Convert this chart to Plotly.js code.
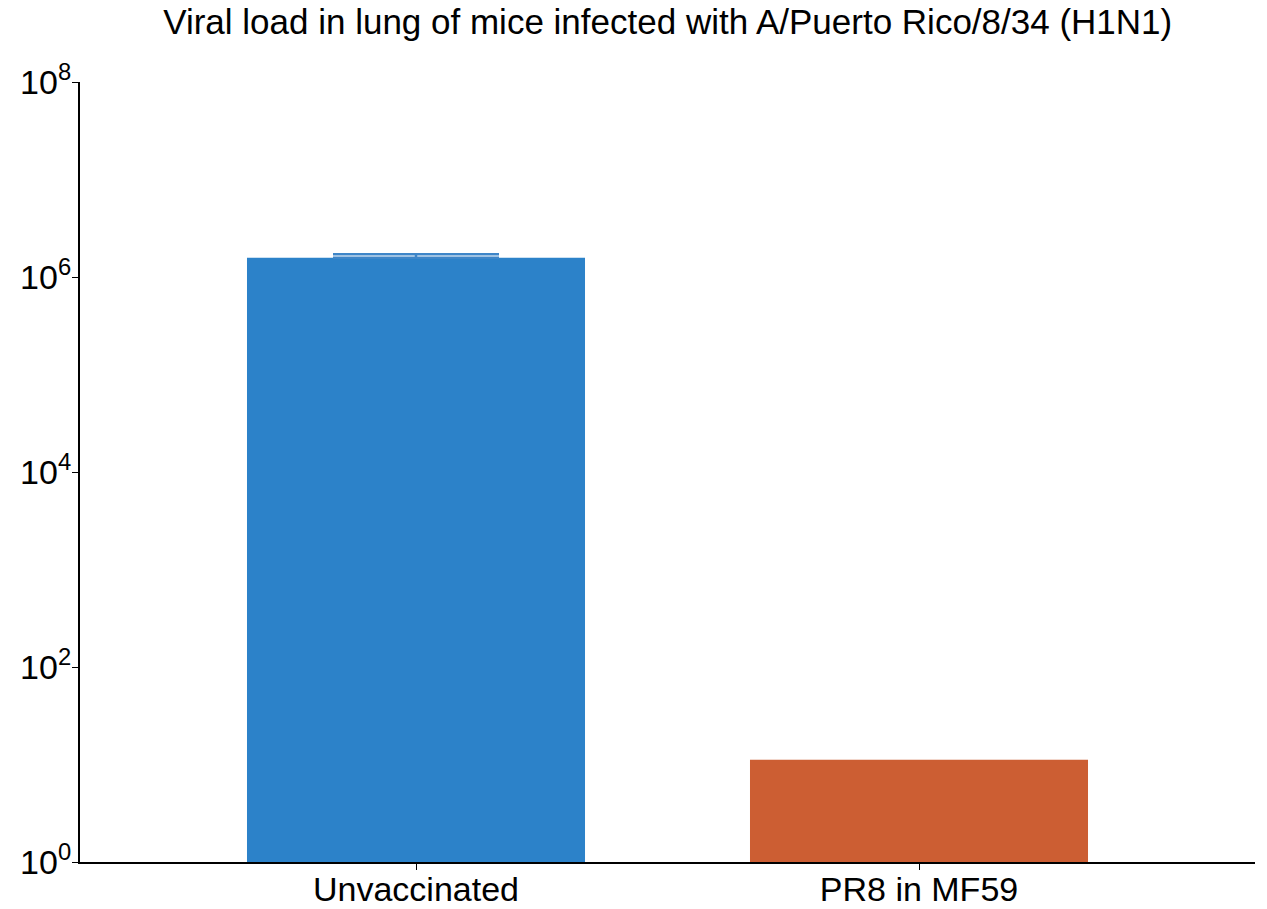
<!DOCTYPE html>
<html><head><meta charset="utf-8">
<script src="https://cdn.plot.ly/plotly-3.0.1.min.js"></script>
<style>body{margin:0;}</style>
</head><body>
<div id="chart" style="width:1267px;height:909px;"></div>
<script>
const categories = ["Unvaccinated", "PR8 in MF59"];
const viralLoad = [1.58e6, 11.2];
const errorUpper = [1.3e5, NaN];
const barColors = ["#2C82C9", "#CC5E33"];
const tickVals = [1, 100, 1e4, 1e6, 1e8];
const tickText = ["10<sup>0</sup>", "10<sup>2</sup>", "10<sup>4</sup>", "10<sup>6</sup>", "10<sup>8</sup>"];

const trace = {
  type: "bar",
  x: categories,
  y: viralLoad,
  width: 0.672,
  marker: {color: barColors, line: {width: 0}},
  error_y: {type: "data", symmetric: false, array: errorUpper, arrayminus: [0, NaN],
            color: "#3F86C8", thickness: 2.5, width: 83, visible: true},
  hoverinfo: "x+y"
};

const layout = {
  width: 1267, height: 909,
  margin: {l: 80, r: 12, t: 82, b: 47},
  paper_bgcolor: "#fff", plot_bgcolor: "#fff",
  font: {family: "'Liberation Sans', Arial, sans-serif", color: "#000"},
  title: {text: "Viral load in lung of mice infected with A/Puerto Rico/8/34 (H1N1)",
          font: {size: 35, color: "#000"}, x: 0.527, xanchor: "center", y: 0.99, yanchor: "top"},
  showlegend: false,
  xaxis: {
    type: "category", range: [-0.668, 1.668],
    showline: true, linecolor: "#000", linewidth: 2,
    ticks: "outside", ticklen: 6, tickcolor: "#000", tickwidth: 1,
    ticklabelstandoff: -10,
    tickfont: {size: 34, color: "#000"}, showgrid: false, zeroline: false
  },
  yaxis: {
    type: "log", range: [0, 8],
    tickvals: tickVals, ticktext: tickText,
    showline: true, linecolor: "#000", linewidth: 2,
    ticks: "outside", ticklen: 6, tickcolor: "#000", tickwidth: 1,
    ticklabelstandoff: -6,
    tickfont: {size: 34, color: "#000"}, showgrid: false, zeroline: false
  }
};

Plotly.newPlot("chart", [trace], layout, {displayModeBar: false});
</script>
</body></html>
